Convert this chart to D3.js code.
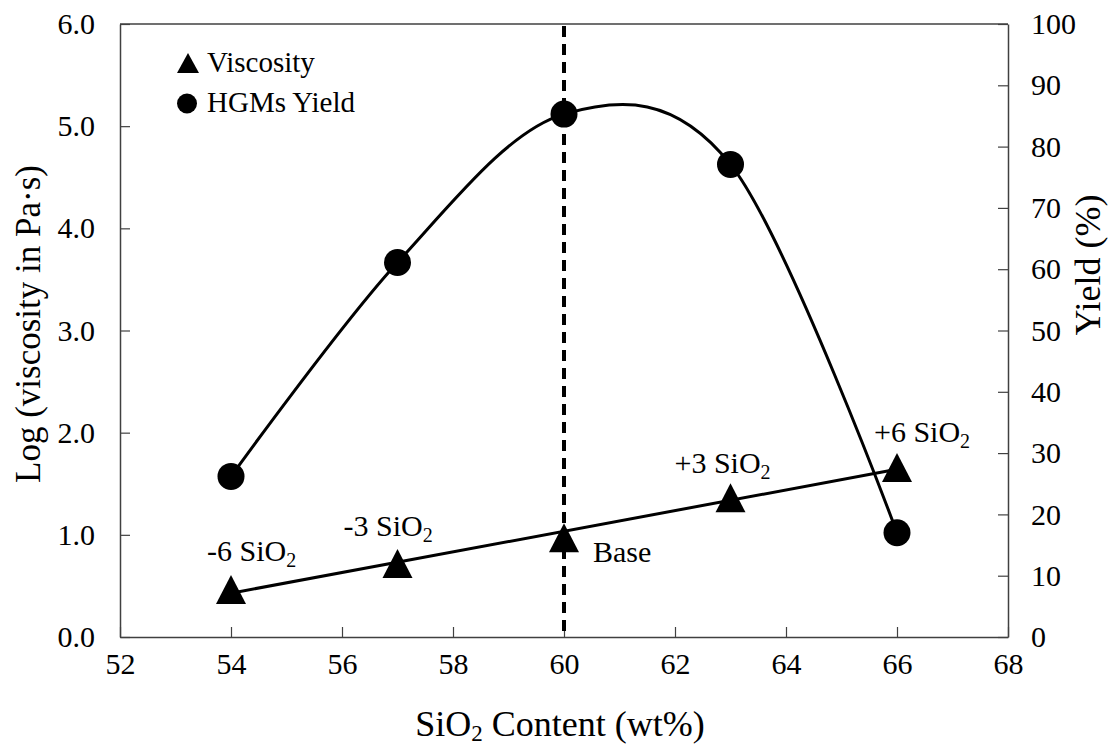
<!DOCTYPE html>
<html>
<head>
<meta charset="utf-8">
<script src="https://cdn.jsdelivr.net/npm/d3@7"></script>
<style>
  html, body { margin: 0; padding: 0; background: #fff; }
  svg text { font-family: "Liberation Serif", "Times New Roman", serif; fill: #000; }
</style>
</head>
<body>
<svg id="chart" width="1116" height="749"></svg>
<script>
// SiO2 content of each glass composition (wt%)
const sio2 = [54, 57, 60, 63, 66];
// Log of melt viscosity (Pa·s)
const logViscosity = [0.465, 0.719, 0.971, 1.362, 1.659];
// Hollow glass microsphere yield (%)
const hgmYield = [26.2, 61.1, 85.3, 77.1, 17.0];
// Composition names written beside the viscosity points
const pointNames = ["-6 SiO", "-3 SiO", "Base", "+3 SiO", "+6 SiO"];
const nameHasSub = [true, true, false, true, true];
// Tick values
const xTicks = [52, 54, 56, 58, 60, 62, 64, 66, 68];
const yLeftTicks = [0, 1, 2, 3, 4, 5, 6];
const yRightTicks = [0, 10, 20, 30, 40, 50, 60, 70, 80, 90, 100];
const baseSio2 = 60;

// Label placement relative to each viscosity marker (px)
const nameOffsets = [[-24, -28], [-54, -28], [29, 24], [-56, -25], [-23, -26]];

const svg = d3.select("#chart");
const plotL = 120, plotR = 1008, plotT = 24, plotB = 637;

const x = d3.scaleLinear().domain([52, 68]).range([plotL, plotR]);
const yL = d3.scaleLinear().domain([0, 6]).range([plotB, plotT]);
const yR = d3.scaleLinear().domain([0, 100]).range([plotB, plotT]);

const axisColor = "#404040";

// Axes with inward ticks
const gx = svg.append("g").attr("transform", `translate(0,${plotB})`)
  .call(d3.axisBottom(x).tickValues(xTicks).tickSizeInner(-10).tickSizeOuter(0).tickPadding(16));
const gyl = svg.append("g").attr("transform", `translate(${plotL},0)`)
  .call(d3.axisLeft(yL).tickValues(yLeftTicks).tickFormat(d3.format(".1f")).tickSizeInner(-10).tickSizeOuter(0).tickPadding(25));
const gyr = svg.append("g").attr("transform", `translate(${plotR},0)`)
  .call(d3.axisRight(yR).tickValues(yRightTicks).tickSizeInner(-10).tickSizeOuter(0).tickPadding(23));

[gx, gyl, gyr].forEach(g => {
  g.select(".domain").attr("stroke", axisColor).attr("stroke-width", 1.5);
  g.selectAll(".tick line").attr("stroke", axisColor).attr("stroke-width", 1.2);
  g.selectAll(".tick text").attr("font-size", 30).attr("font-family", "Liberation Serif, Times New Roman, serif").attr("fill", "#000");
});

// Top frame edge
svg.append("line")
  .attr("x1", plotL).attr("x2", plotR).attr("y1", plotT).attr("y2", plotT)
  .attr("stroke", axisColor).attr("stroke-width", 1.5);

// Vertical dashed marker at the base composition
svg.append("line")
  .attr("x1", x(baseSio2)).attr("x2", x(baseSio2))
  .attr("y1", yL(6) + 2).attr("y2", yL(0))
  .attr("stroke", "#000").attr("stroke-width", 4).attr("stroke-dasharray", "11,7");

// Yield: smoothed curve through the points
const yieldPts = sio2.map((s, i) => [x(s), yR(hgmYield[i])]);
svg.append("path")
  .attr("d", d3.line().curve(d3.curveCatmullRom.alpha(0))(yieldPts))
  .attr("fill", "none").attr("stroke", "#000").attr("stroke-width", 3);

// Viscosity: least-squares linear trend
const mx = d3.mean(sio2), my = d3.mean(logViscosity);
const slope = d3.sum(sio2, (s, i) => (s - mx) * (logViscosity[i] - my)) / d3.sum(sio2, s => (s - mx) ** 2);
const icpt = my - slope * mx;
const xs = d3.extent(sio2);
svg.append("path")
  .attr("d", d3.line()(xs.map(s => [x(s), yL(icpt + slope * s)])))
  .attr("fill", "none").attr("stroke", "#000").attr("stroke-width", 3);

// Marker helpers
const triPath = (w, h) => `M0,${-h / 2}L${w / 2},${h / 2}L${-w / 2},${h / 2}Z`;

svg.append("g").selectAll("circle").data(sio2).join("circle")
  .attr("cx", d => x(d)).attr("cy", (d, i) => yR(hgmYield[i]))
  .attr("r", 13.5).attr("fill", "#000");

svg.append("g").selectAll("path").data(sio2).join("path")
  .attr("d", triPath(30, 29))
  .attr("transform", (d, i) => `translate(${x(d)},${yL(logViscosity[i])})`)
  .attr("fill", "#000");

// Composition names
const names = svg.append("g").selectAll("text").data(sio2).join("text")
  .attr("x", (d, i) => x(d) + nameOffsets[i][0])
  .attr("y", (d, i) => yL(logViscosity[i]) + nameOffsets[i][1])
  .attr("font-size", 30);
names.each(function (d, i) {
  const t = d3.select(this);
  t.append("tspan").text(pointNames[i]);
  if (nameHasSub[i]) t.append("tspan").attr("font-size", 20).attr("dy", 6).text("2");
});

// Axis titles
const xt = svg.append("text").attr("x", 560).attr("y", 736)
  .attr("text-anchor", "middle").attr("font-size", 36);
xt.append("tspan").text("SiO");
xt.append("tspan").attr("font-size", 23).attr("dy", 5).text("2");
xt.append("tspan").attr("dy", -5).text(" Content (wt%)");

svg.append("text")
  .attr("transform", "translate(40,324) rotate(-90)")
  .attr("text-anchor", "middle").attr("font-size", 35)
  .text("Log (viscosity in Pa·s)");

svg.append("text")
  .attr("transform", "translate(1100,265) rotate(-90)")
  .attr("text-anchor", "middle").attr("font-size", 36)
  .text("Yield (%)");

// Legend
const legend = svg.append("g");
legend.append("path").attr("d", triPath(22, 20)).attr("transform", "translate(188,63)").attr("fill", "#000");
legend.append("circle").attr("cx", 187).attr("cy", 103.5).attr("r", 10).attr("fill", "#000");
legend.append("text").attr("x", 207).attr("y", 72).attr("font-size", 29).text("Viscosity");
legend.append("text").attr("x", 207).attr("y", 112).attr("font-size", 29).text("HGMs Yield");
</script>
</body>
</html>
